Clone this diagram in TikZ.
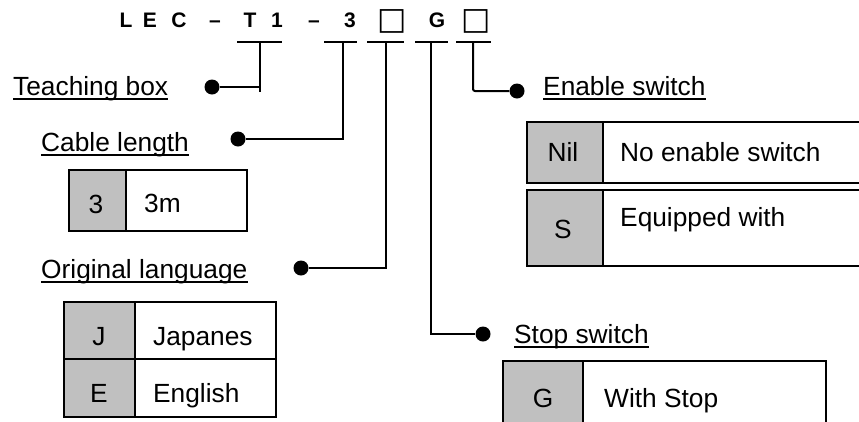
\documentclass[tikz,border=0pt]{standalone}
\usepackage{fontspec}
\setmainfont{Liberation Sans}
\newfontfamily\symfont{DejaVu Sans}
\usepackage{tikz}
\usetikzlibrary{calc}

\definecolor{codegrey}{RGB}{192,192,192}

\tikzset{
    wire/.style={line width=2pt},
    dot/.style={circle, fill, inner sep=0pt, minimum size=15pt},
    titlechar/.style={anchor=base, inner sep=0pt, font=\fontsize{21}{24}\selectfont\bfseries},
    titlebox/.style={anchor=base, inner sep=0pt, font=\fontsize{31}{34}\selectfont\symfont\bfseries},
    heading/.style={anchor=base west, inner sep=0pt, font=\fontsize{26.3}{30}\selectfont},
    cell/.style={draw, line width=1.5pt, anchor=north west, inner sep=0pt},
    codecell/.style={cell, fill=codegrey},
    celltext/.style={anchor=base west, inner sep=0pt, font=\fontsize{26.3}{30}\selectfont},
    codetext/.style={anchor=base, inner sep=0pt, font=\fontsize{26.3}{30}\selectfont}
}

\begin{document}
\begin{tikzpicture}[x=1pt, y=-1pt]
    % Fix the page to the reference size
    \useasboundingbox (0,0) rectangle (859,421);
    \clip (0,0) rectangle (859,421);

    % The model code, one character at a time
    \node[titlechar] (cL) at (126,27) {L};
    \node[titlechar] (cE) at (150,27) {E};
    \node[titlechar] (cC) at (179,27) {C};
    \node[titlechar] (cDashA) at (215,27) {--};
    \node[titlechar] (cT) at (250,27) {T};
    \node[titlechar] (cOne) at (277,27) {1};
    \node[titlechar] (cDashB) at (314,27) {--};
    \node[titlechar] (cThree) at (350,27) {3};
    \node[titlebox] (cBoxA) at (392,29) {□};
    \node[titlechar] (cG) at (437,27) {G};
    \node[titlebox] (cBoxB) at (476,29) {□};

    % Bars under each part of the code
    \draw[wire] (237,42) -- (282,42);
    \draw[wire] (324,42) -- (357,42);
    \draw[wire] (367,42) -- (404,42);
    \draw[wire] (415,42) -- (448,42);
    \draw[wire] (456,42) -- (491,42);
    \coordinate (kT) at (260,42);
    \coordinate (kThree) at (343,42);
    \coordinate (kBoxA) at (386,42);
    \coordinate (kG) at (431,42);
    \coordinate (kBoxB) at (473,42);

    % End dots of the leaders
    \node[dot] (dTeach) at (212,87) {};
    \node[dot] (dCable) at (238,139) {};
    \node[dot] (dLang) at (301,268) {};
    \node[dot] (dStop) at (483,334) {};
    \node[dot] (dEnable) at (517,91) {};

    % Leaders from the bars to the dots
    \draw[wire] (kT) -- ($(kT)+(0,50)$);
    \draw[wire] (dTeach) -- (dTeach -| kT);
    \draw[wire] (kThree) |- (dCable);
    \draw[wire] (kBoxA) |- (dLang);
    \draw[wire] (kG) |- (dStop);
    \draw[wire, rounded corners=2pt] (kBoxB) |- (dEnable);

    % Headings, underlined
    \node[heading] (hTeach) at (13,95) {Teaching box};
    \node[heading] (hCable) at (41,151) {Cable length};
    \node[heading] (hLang) at (41,278) {Original language};
    \node[heading] (hEnable) at (543,95) {Enable switch};
    \node[heading] (hStop) at (514,343) {Stop switch};
    \foreach \h in {hTeach, hCable, hLang, hEnable, hStop}
        \draw[line width=1.5pt] ($(\h.base west)+(0,4)$) -- ($(\h.base east)+(0,4)$);

    % Cable length table
    \node[codecell, minimum width=57pt, minimum height=61pt] (cab3) at (68,169) {};
    \node[cell, minimum width=121pt, minimum height=61pt] (cab3t) at (125,169) {};
    \node[codetext] at (96,213) {3};
    \node[celltext] at (144,212) {3m};

    % Original language table
    \node[codecell, minimum width=71pt, minimum height=57pt] (langJ) at (63,301) {};
    \node[cell, minimum width=141pt, minimum height=57pt] (langJt) at (134,301) {};
    \node[codecell, minimum width=71pt, minimum height=58pt] (langE) at (63,358) {};
    \node[cell, minimum width=141pt, minimum height=58pt] (langEt) at (134,358) {};
    \node[codetext] at (99,345) {J};
    \node[celltext] at (153,345) {Japanes};
    \node[codetext] at (99,402) {E};
    \node[celltext] at (153,402) {English};

    % Enable switch table (runs off the right edge)
    \node[codecell, minimum width=76pt, minimum height=61pt] (enNil) at (526,121) {};
    \node[cell, minimum width=300pt, minimum height=61pt] (enNilt) at (602,121) {};
    \node[codecell, minimum width=76pt, minimum height=76pt] (enS) at (526,189) {};
    \node[cell, minimum width=300pt, minimum height=76pt] (enSt) at (602,189) {};
    \node[codetext] at (563,161) {Nil};
    \node[celltext] at (620,161) {No enable switch};
    \node[codetext] at (563,238) {S};
    \node[celltext] at (620,226) {Equipped with};

    % Stop switch table (runs off the bottom edge)
    \node[codecell, minimum width=80pt, minimum height=80pt] (stG) at (502,360) {};
    \node[cell, minimum width=243pt, minimum height=80pt] (stGt) at (582,360) {};
    \node[codetext] at (543,407) {G};
    \node[celltext] at (604,407) {With Stop};
\end{tikzpicture}
\end{document}
